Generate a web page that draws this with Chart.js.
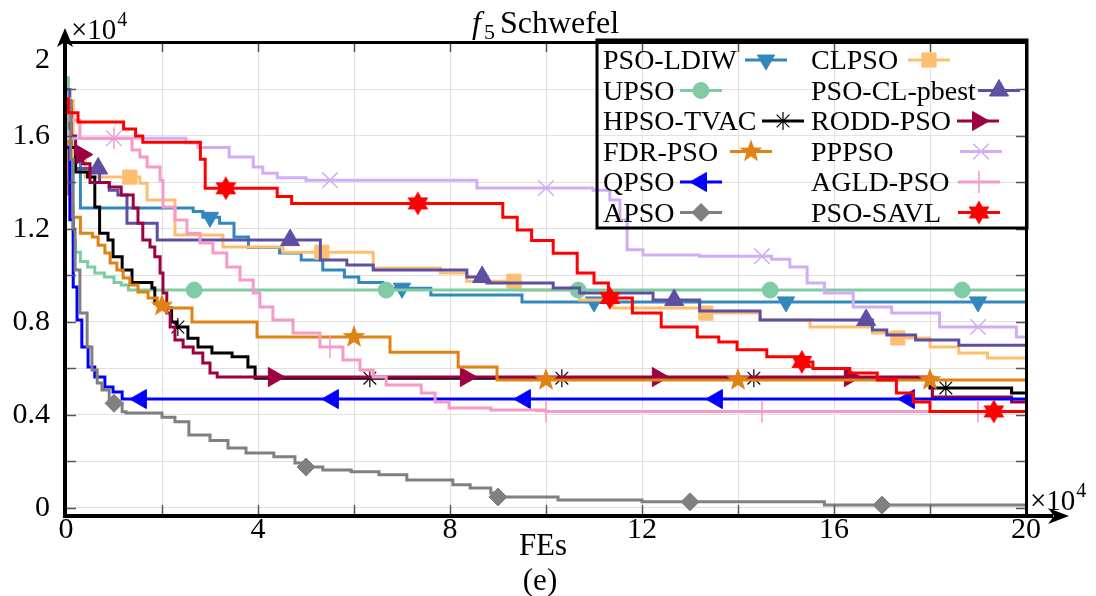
<!DOCTYPE html>
<html>
<head>
<meta charset="utf-8">
<script src="https://cdn.jsdelivr.net/npm/chart.js@4.4.1/dist/chart.umd.min.js"></script>
<style>
  body { margin: 0; background: #fff; }
</style>
</head>
<body>
<canvas id="myChart" width="1096" height="596"></canvas>
<script>
// all values in units of 1e4 (FEs on x, fitness on y)
const xTickValues = [0, 2, 4, 6, 8, 10, 12, 14, 16, 18, 20];
const yTickValues = [0, 0.2, 0.4, 0.6, 0.8, 1.0, 1.2, 1.4, 1.6, 1.8, 2.0];

// [FEs, best value] step points
const psoLdiw = [[0,1.75],[0.1,1.5],[0.3,1.29],[2.65,1.275],[2.85,1.25],[3.2,1.225],[3.5,1.165],[3.8,1.12],[4.45,1.096],[4.9,1.066],[5.35,1.023],[5.8,0.993],[6.1,0.97],[6.6,0.945],[7.6,0.916],[9.5,0.886],[20,0.886]];
const clpso = [[0,1.75],[0.15,1.5],[0.4,1.423],[1.54,1.397],[1.69,1.324],[2.27,1.174],[3.27,1.122],[4.52,1.10],[6.4,1.032],[7.8,1.01],[8.35,0.975],[9.46,0.937],[10.7,0.894],[11.4,0.86],[13.2,0.838],[14.46,0.808],[15.5,0.778],[16.8,0.752],[17.2,0.731],[18.0,0.692],[18.6,0.666],[19.2,0.645],[20,0.645]];
const upso = [[0,1.85],[0.05,1.5],[0.1,1.3],[0.15,1.15],[0.2,1.1],[0.3,1.06],[0.45,1.036],[0.6,1.01],[0.8,0.993],[1.0,0.97],[1.15,0.959],[1.3,0.937],[20,0.937]];
const psoClPbest = [[0,1.8],[0.08,1.55],[0.2,1.46],[0.7,1.40],[0.9,1.367],[1.08,1.346],[1.27,1.225],[1.9,1.152],[5.3,1.066],[5.85,1.045],[6.4,1.023],[8.35,0.993],[8.77,0.967],[10.15,0.946],[10.7,0.924],[12.23,0.894],[13.2,0.847],[14.46,0.808],[16.8,0.765],[17.1,0.744],[17.7,0.722],[18.6,0.70],[20,0.70]];
const hpsoTvac = [[0,1.75],[0.1,1.55],[0.2,1.445],[0.45,1.423],[0.6,1.294],[0.7,1.182],[0.875,1.152],[0.98,1.08],[1.17,1.023],[1.375,0.97],[1.79,0.946],[1.85,0.88],[2.06,0.86],[2.2,0.8],[2.31,0.778],[2.54,0.73],[2.75,0.692],[3.04,0.666],[3.46,0.65],[3.79,0.606],[3.94,0.558],[18.0,0.516],[19.7,0.494],[20,0.494]];
const roddPso = [[0,1.72],[0.1,1.6],[0.2,1.52],[0.35,1.48],[0.5,1.40],[0.9,1.38],[1.15,1.346],[1.4,1.29],[1.5,1.225],[1.6,1.152],[1.75,1.122],[1.85,1.08],[1.96,1.01],[2.02,0.924],[2.1,0.838],[2.17,0.778],[2.27,0.722],[2.44,0.692],[2.65,0.666],[2.85,0.623],[3.0,0.58],[3.15,0.563],[18.05,0.477],[19.7,0.456],[20,0.456]];
const fdrPso = [[0,1.6],[0.05,1.35],[0.1,1.25],[0.3,1.182],[0.55,1.165],[0.67,1.13],[0.81,1.096],[0.92,1.053],[1.06,1.023],[1.19,0.989],[1.33,0.959],[1.5,0.929],[1.71,0.903],[1.9,0.87],[2.125,0.86],[2.625,0.80],[3.98,0.735],[6.75,0.67],[8.17,0.606],[8.98,0.55],[20,0.55]];
const pppso = [[0,1.62],[0.05,1.59],[2.5,1.57],[2.75,1.55],[3.4,1.51],[3.9,1.466],[4.1,1.44],[4.4,1.42],[5.0,1.41],[8.56,1.376],[10.98,1.367],[11.33,1.324],[11.54,1.238],[11.69,1.11],[12.02,1.088],[13.2,1.083],[14.7,1.07],[15.08,1.036],[15.44,0.967],[15.8,0.924],[16.4,0.864],[17.2,0.838],[18.2,0.778],[19.8,0.735],[20,0.735]];
const qpso = [[0,1.55],[0.08,1.24],[0.15,0.95],[0.23,0.808],[0.33,0.692],[0.46,0.606],[0.6,0.563],[0.81,0.52],[0.98,0.499],[1.17,0.468],[20,0.468]];
const agldPso = [[0,1.76],[0.08,1.668],[0.29,1.59],[1.375,1.54],[1.54,1.51],[1.69,1.466],[1.96,1.41],[2.02,1.294],[2.27,1.238],[2.52,1.18],[2.79,1.14],[3.06,1.096],[3.35,1.036],[3.625,0.98],[3.9,0.924],[4.04,0.864],[4.31,0.808],[4.73,0.752],[5.29,0.692],[5.77,0.636],[6.125,0.593],[6.4,0.563],[6.67,0.529],[7.4,0.494],[7.69,0.456],[7.98,0.43],[8.85,0.421],[10.0,0.415],[20,0.415]];
const apso = [[0,1.75],[0.1,1.5],[0.15,1.2],[0.19,1.023],[0.29,0.838],[0.44,0.692],[0.54,0.593],[0.65,0.537],[0.75,0.507],[0.9,0.45],[1.17,0.413],[1.25,0.408],[2.0,0.39],[2.27,0.37],[2.56,0.314],[3.0,0.29],[3.375,0.258],[3.75,0.236],[4.33,0.22],[4.77,0.193],[5.0,0.176],[5.35,0.163],[5.94,0.155],[6.52,0.142],[7.1,0.12],[8.06,0.099],[8.42,0.086],[8.85,0.064],[9.0,0.047],[10.25,0.034],[12.0,0.026],[15.8,0.012],[20,0.012]];
const psoSavl = [[0,1.76],[0.05,1.7],[0.25,1.66],[1.2,1.63],[1.45,1.6],[1.6,1.573],[2.8,1.5],[2.9,1.375],[4.4,1.34],[4.7,1.31],[9.1,1.25],[9.4,1.195],[9.7,1.15],[10.15,1.095],[10.65,1.01],[11.0,0.967],[11.3,0.903],[11.8,0.838],[12.4,0.778],[13.15,0.735],[13.6,0.714],[13.98,0.68],[14.6,0.65],[15.33,0.628],[15.56,0.60],[16.33,0.58],[16.9,0.55],[17.3,0.494],[17.65,0.456],[18.0,0.415],[20,0.415]];

// FEs where each curve carries a marker
const psoLdiwMarks = [3, 7, 11, 15, 19];
const clpsoMarks = [1.33, 5.33, 9.33, 13.33, 17.33];
const upsoMarks = [2.67, 6.67, 10.67, 14.67, 18.67];
const psoClPbestMarks = [0.67, 4.67, 8.67, 12.67, 16.67];
const hpsoTvacMarks = [2.33, 6.33, 10.33, 14.33, 18.33];
const roddPsoMarks = [0.33, 4.33, 8.33, 12.33, 16.33];
const fdrPsoMarks = [2, 6, 10, 14, 18];
const pppsoMarks = [1, 5.5, 10, 14.5, 19];
const qpsoMarks = [1.56, 5.56, 9.56, 13.56, 17.56];
const agldPsoMarks = [1, 5.5, 10, 14.5, 19];
const apsoMarks = [1, 5, 9, 13, 17];
const psoSavlMarks = [3.33, 7.33, 11.33, 15.33, 19.33];

const FONT = '"Liberation Serif", "Times New Roman", serif';

function starImg(n, R, r, color) {
  const c = document.createElement('canvas');
  c.width = c.height = 2 * R + 2;
  const g = c.getContext('2d');
  g.fillStyle = color;
  g.beginPath();
  for (let k = 0; k < 2 * n; k++) {
    const a = -Math.PI / 2 + k * Math.PI / n;
    const rr = k % 2 ? r : R;
    g.lineTo(R + 1 + rr * Math.cos(a), R + 1 + rr * Math.sin(a));
  }
  g.closePath();
  g.fill();
  return c;
}

function stepValue(pts, x) {
  let v = pts[0][1];
  for (const p of pts) if (p[0] <= x + 1e-9) v = p[1];
  return v;
}

// plotting order (legend is filled row by row, two columns)
const series = [
  { name: 'PSO-LDIW', pts: psoLdiw, marks: psoLdiwMarks, color: '#3288bd', style: 'triangle', rot: 180, r: 10, sx: 745 },
  { name: 'CLPSO', pts: clpso, marks: clpsoMarks, color: '#fdbf6f', style: 'rect', r: 10, sx: 908 },
  { name: 'UPSO', pts: upso, marks: upsoMarks, color: '#7fcba4', style: 'circle', r: 8, sx: 680 },
  { name: 'PSO-CL-pbest', pts: psoClPbest, marks: psoClPbestMarks, color: '#5e4fa2', style: 'triangle', rot: 0, r: 11, sx: 978 },
  { name: 'HPSO-TVAC', pts: hpsoTvac, marks: hpsoTvacMarks, color: '#000000', style: 'star', r: 9, bw: 1.2, sx: 762 },
  { name: 'RODD-PSO', pts: roddPso, marks: roddPsoMarks, color: '#9e0142', style: 'triangle', rot: 90, r: 11, sx: 957 },
  { name: 'FDR-PSO', pts: fdrPso, marks: fdrPsoMarks, color: '#e08214', style: starImg(5, 12, 5, '#e08214'), r: 12, sx: 730 },
  { name: 'PPPSO', pts: pppso, marks: pppsoMarks, color: '#d2adf5', style: 'crossRot', r: 11, bw: 1.5, sx: 960 },
  { name: 'QPSO', pts: qpso, marks: qpsoMarks, color: '#0000ff', style: 'triangle', rot: 270, r: 11, sx: 680 },
  { name: 'AGLD-PSO', pts: agldPso, marks: agldPsoMarks, color: '#f59bc9', style: 'cross', r: 11, bw: 1.5, sx: 958 },
  { name: 'APSO', pts: apso, marks: apsoMarks, color: '#808080', style: 'rectRot', r: 9, sx: 680 },
  { name: 'PSO-SAVL', pts: psoSavl, marks: psoSavlMarks, color: '#ff0000', style: starImg(6, 12, 7, '#ff0000'), r: 12, sx: 958 }
];

const datasets = [];
series.forEach((s, i) => {
  const ord = (series.length - i) * 2;
  datasets.push({
    label: s.name,
    data: s.pts.map(p => ({ x: p[0], y: p[1] })),
    borderColor: s.color,
    borderWidth: 3,
    stepped: true,
    pointRadius: 0,
    fill: false,
    order: ord
  });
  datasets.push({
    label: s.name + ' markers',
    data: s.marks.map(x => ({ x: x, y: stepValue(s.pts, x) })),
    showLine: false,
    pointStyle: s.style,
    pointRotation: s.rot || 0,
    pointRadius: s.r,
    pointBackgroundColor: s.color,
    pointBorderColor: s.color,
    pointBorderWidth: s.bw || 1,
    order: ord - 1
  });
});

function text(ctx, str, x, y, size, opts) {
  ctx.font = (opts && opts.italic ? 'italic ' : '') + size + 'px ' + FONT;
  ctx.textAlign = (opts && opts.align) || 'left';
  ctx.textBaseline = 'alphabetic';
  ctx.fillText(str, x, y);
  return ctx.measureText(str).width;
}

const decor = {
  id: 'decor',
  afterDraw(chart) {
    const ctx = chart.ctx;
    const a = chart.chartArea;
    const xs = chart.scales.x, ys = chart.scales.y;
    ctx.save();

    // inner ticks
    ctx.strokeStyle = '#555';
    ctx.lineWidth = 1.5;
    ctx.beginPath();
    xTickValues.slice(1, -1).forEach(v => {
      const px = Math.round(xs.getPixelForValue(v)) + 0.5;
      ctx.moveTo(px, a.top); ctx.lineTo(px, a.top + 9);
      ctx.moveTo(px, a.bottom - 2); ctx.lineTo(px, a.bottom - 11);
    });
    yTickValues.slice(0, -1).forEach(v => {
      const py = Math.round(ys.getPixelForValue(v)) + 0.5;
      ctx.moveTo(a.left, py); ctx.lineTo(a.left + 10, py);
      ctx.moveTo(a.right, py); ctx.lineTo(a.right - 10, py);
    });
    ctx.stroke();

    // frame and axes
    ctx.fillStyle = '#000';
    ctx.fillRect(a.left - 3, a.top - 2, a.right - a.left + 5, 3);
    ctx.fillRect(a.right - 1, a.top - 2, 3, a.bottom - a.top + 2);
    ctx.fillRect(a.left - 3, a.top - 4, 4, a.bottom - a.top + 6);
    ctx.fillRect(a.left - 3, a.bottom - 2, 990, 4);
    // arrows
    const ax = a.left - 1;
    ctx.beginPath();
    ctx.moveTo(ax, 28); ctx.lineTo(ax + 8, 47); ctx.lineTo(ax, 42); ctx.lineTo(ax - 8, 47);
    ctx.closePath(); ctx.fill();
    const ay = a.bottom;
    ctx.beginPath();
    ctx.moveTo(1069, ay); ctx.lineTo(1048, ay - 8); ctx.lineTo(1054, ay); ctx.lineTo(1048, ay + 8);
    ctx.closePath(); ctx.fill();

    // top y label sits lower, below the arrow
    text(ctx, '2', 50, 68, 30, { align: 'right' });

    // title and axis texts
    text(ctx, 'f', 472, 33, 32, { italic: true });
    text(ctx, '5', 484, 39, 22);
    text(ctx, 'Schwefel', 500, 33, 32);
    let w = text(ctx, '\u00d710', 71, 39, 29);
    text(ctx, '4', 71 + w + 1, 26, 20);
    w = text(ctx, '\u00d710', 1030, 510, 29);
    text(ctx, '4', 1030 + w + 1, 497, 20);
    text(ctx, 'FEs', 543, 555, 31, { align: 'center' });
    text(ctx, '(e)', 540, 590, 31, { align: 'center' });

    // legend
    const lx = 597, ly = 40, lw = 430, lh = 188;
    ctx.lineWidth = 3;
    ctx.strokeStyle = '#000';
    ctx.strokeRect(lx, ly, lw, lh);
    series.forEach((s, i) => {
      const col = i % 2, row = Math.floor(i / 2);
      const cy = 60 + row * 30.5;
      ctx.fillStyle = '#000';
      text(ctx, s.name, col ? 811 : 603, cy + 9, 28);
      const x0 = s.sx, x1 = s.sx + 42;
      ctx.strokeStyle = s.color;
      ctx.lineWidth = 3;
      ctx.beginPath(); ctx.moveTo(x0, cy); ctx.lineTo(x1, cy); ctx.stroke();
      ctx.fillStyle = s.color;
      ctx.lineWidth = s.bw || 1;
      Chart.helpers.drawPoint(ctx, { pointStyle: s.style, rotation: s.rot || 0, radius: s.r, borderWidth: s.bw || 1 }, (x0 + x1) / 2, cy);
    });
    ctx.restore();
  }
};

const tickFont = { family: FONT, size: 30 };

const config = {
  type: 'line',
  data: { datasets: datasets },
  options: {
    responsive: false,
    animation: false,
    devicePixelRatio: 1,
    events: [],
    layout: { padding: { left: 0, top: 43, right: 70, bottom: 0 } },
    plugins: { legend: { display: false }, tooltip: { enabled: false } },
    scales: {
      x: {
        type: 'linear', min: 0, max: 20,
        afterBuildTicks: s => { s.ticks = xTickValues.map(v => ({ value: v })); },
        afterFit: s => { s.height = 80; },
        grid: { color: '#e2e2e2', lineWidth: 1, drawTicks: false },
        border: { display: false },
        ticks: {
          font: tickFont, color: '#000', padding: -4, maxRotation: 0, autoSkip: false,
          callback: v => (v % 4 === 0 ? String(v) : '')
        }
      },
      y: {
        type: 'linear', min: -0.035, max: 2.0,
        afterBuildTicks: s => { s.ticks = yTickValues.map(v => ({ value: v })); },
        afterFit: s => { s.width = 66; },
        grid: { color: '#e2e2e2', lineWidth: 1, drawTicks: false },
        border: { display: false },
        ticks: {
          font: tickFont, color: '#000', padding: 16, autoSkip: false,
          callback: v => (Math.round(v * 10) % 4 === 0 && v < 1.95 ? String(Math.round(v * 10) / 10) : '')
        }
      }
    }
  },
  plugins: [decor]
};

const myChart = new Chart(document.getElementById('myChart'), config);
</script>
</body>
</html>
